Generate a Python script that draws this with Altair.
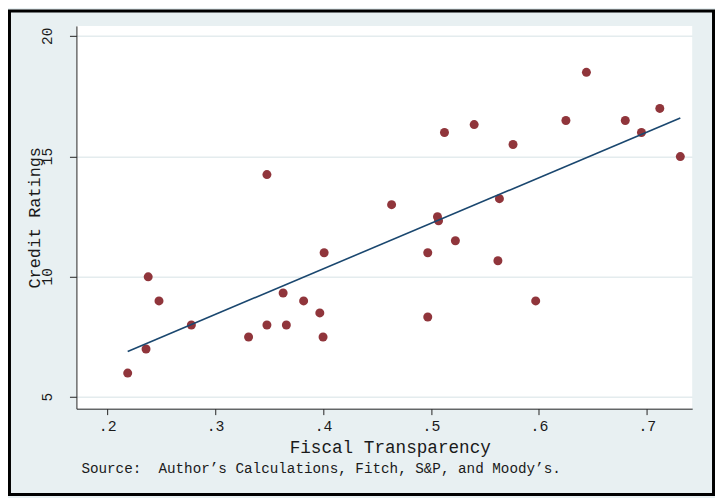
import altair as alt
import pandas as pd

# Data
fiscal_transparency = [0.219, 0.236, 0.238, 0.248, 0.278, 0.331, 0.348, 0.348,
                       0.363, 0.366, 0.382, 0.397, 0.400, 0.401, 0.4635, 0.497,
                       0.497, 0.506, 0.507, 0.5125, 0.5226, 0.540, 0.562, 0.5634,
                       0.576, 0.597, 0.625, 0.644, 0.680, 0.695, 0.712, 0.731]
credit_ratings = [6, 7, 10, 9, 8, 7.5, 14.25, 8,
                  9.33, 8, 9, 8.5, 7.5, 11, 13, 11,
                  8.33, 12.5, 12.33, 16, 11.5, 16.33, 10.67, 13.25,
                  15.5, 9, 16.5, 18.5, 16.5, 16, 17, 15]
x_ticks = [0.2, 0.3, 0.4, 0.5, 0.6, 0.7]
y_ticks = [5, 10, 15, 20]
y_tick_labels = ["5", "10", "15", "20"]
x_title = "Fiscal Transparency"
y_title = "Credit Ratings"
source_note = "Source:\u00a0 Author\u2019s Calculations, Fitch, S&P, and Moody\u2019s."

df = pd.DataFrame({"ft": fiscal_transparency, "cr": credit_ratings})
ylab_df = pd.DataFrame({"cr": y_ticks, "lab": y_tick_labels})

W, H = 621, 386
PAD = {"left": 69, "top": 16, "right": 23, "bottom": 88}
FONT = "Liberation Mono"
BG = "#e8f0f2"
TXT = "#1a1a1a"

xscale = alt.Scale(domain=[0.1715, 0.742], zero=False, nice=False)
yscale = alt.Scale(domain=[4.52, 20.43], zero=False, nice=False)

xaxis = alt.Axis(values=x_ticks, title=x_title, grid=False,
                 labelExpr="replace(format(datum.value, '.1f'), '0.', '.')",
                 tickSize=6, labelPadding=4, labelFontSize=15, titleFontSize=17.8,
                 titleX=316, titleY=30, titleAlign="center", titleBaseline="top")
yaxis = alt.Axis(values=y_ticks, title=y_title, grid=True, labels=False,
                 tickSize=7, titleFontSize=17,
                 titleAngle=270, titleAlign="center", titleBaseline="bottom",
                 titleX=-33, titleY=H / 2)

points = alt.Chart(df).mark_circle(size=82, color="#90353b", opacity=1).encode(
    x=alt.X("ft:Q", scale=xscale, axis=xaxis),
    y=alt.Y("cr:Q", scale=yscale, axis=yaxis),
)

fit = alt.Chart(df).transform_regression("ft", "cr").mark_line(
    color="#1a476f", strokeWidth=1.6
).encode(x=alt.X("ft:Q", scale=xscale), y=alt.Y("cr:Q", scale=yscale))

ylabels = alt.Chart(ylab_df).mark_text(
    angle=270, align="center", baseline="bottom", font=FONT, fontSize=14.5, color=TXT
).encode(y=alt.Y("cr:Q", scale=yscale), x=alt.value(-22), text="lab:N")

frame = alt.Chart(pd.DataFrame({"k": [0]})).mark_rect(
    fillOpacity=0, stroke="black", strokeWidth=3
).encode(
    x=alt.value(-PAD["left"] + 1.5), x2=alt.value(W + PAD["right"] - 1.5),
    y=alt.value(-PAD["top"] + 1), y2=alt.value(H + PAD["bottom"] - 1.5),
)

note = alt.Chart(pd.DataFrame({"t": [source_note]})).mark_text(
    align="left", baseline="alphabetic", font=FONT, fontSize=14.4, color=TXT
).encode(text="t:N", x=alt.value(5), y=alt.value(451))

chart = alt.layer(points, fit, ylabels, note, frame).properties(
    width=W, height=H,
    autosize=alt.AutoSizeParams(type="none"),
    padding=PAD,
    background=BG,
).configure_view(
    fill="white", stroke=None
).configure_axis(
    labelFont=FONT, titleFont=FONT, labelColor=TXT, titleColor=TXT,
    titleFontWeight="normal", domainColor="#222222", tickColor="#222222",
    domainWidth=1, tickWidth=1, gridColor="#e4ecee", gridWidth=1.5,
)

chart.save("out.html", embed_options={"renderer": "svg", "actions": False})
